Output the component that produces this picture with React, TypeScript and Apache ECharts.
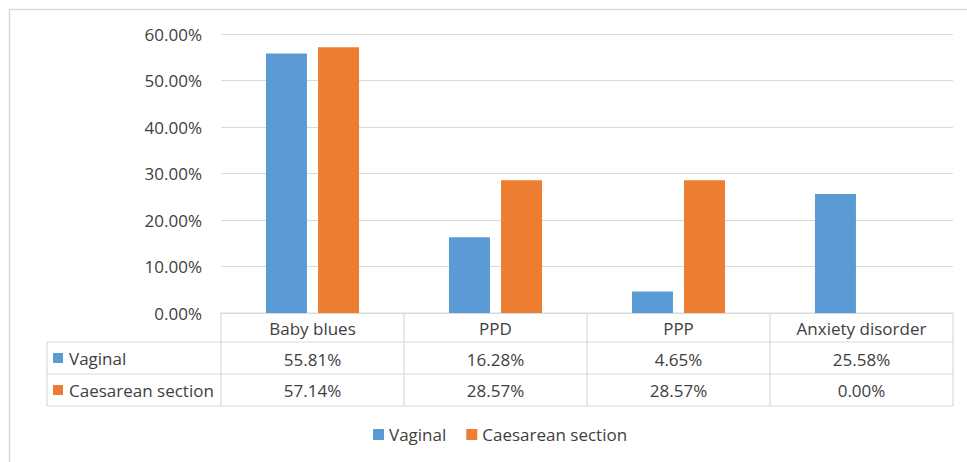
import React, { useEffect, useRef } from "react";
import * as echarts from "echarts";

const categories = ["Baby blues", "PPD", "PPP", "Anxiety disorder"];
const seriesNames = ["Vaginal", "Caesarean section"];
const vaginal = [55.81, 16.28, 4.65, 25.58];
const caesarean = [57.14, 28.57, 28.57, 0.0];
const colors = ["#5B9BD5", "#ED7D31"];

const FONT = "'Open Sans', sans-serif";
const TEXT = "#404040";
const LINE = "#d9d9d9";

const GRID_LEFT = 221;
const GRID_RIGHT_X = 953;
const AXIS_Y = 313;
const ROWS = [313, 342, 374, 406];
const TABLE_LEFT = 47;

const fmt = (v: number) => v.toFixed(2) + "%";

export default function App() {
  const ref = useRef<HTMLDivElement>(null);
  useEffect(() => {
    if (!ref.current) return;
    const chart = echarts.init(ref.current, undefined, { renderer: "svg" });
    const colW = (GRID_RIGHT_X - GRID_LEFT) / categories.length;
    const lines: any[] = [];
    const hl = (x1: number, x2: number, y: number) =>
      lines.push({ type: "line", shape: { x1, y1: y, x2, y2: y }, style: { stroke: LINE, lineWidth: 1.2 }, silent: true });
    const vl = (x: number, y1: number, y2: number) =>
      lines.push({ type: "line", shape: { x1: x, y1, x2: x, y2 }, style: { stroke: LINE, lineWidth: 1.2 }, silent: true });
    hl(GRID_LEFT, GRID_RIGHT_X, ROWS[0]);
    hl(TABLE_LEFT, GRID_RIGHT_X, ROWS[1]);
    hl(TABLE_LEFT, GRID_RIGHT_X, ROWS[2]);
    hl(TABLE_LEFT, GRID_RIGHT_X, ROWS[3]);
    vl(TABLE_LEFT, ROWS[1], ROWS[3]);
    for (let i = 0; i <= categories.length; i++) vl(GRID_LEFT + i * colW, ROWS[0], ROWS[3]);
    // outer frame
    lines.push({ type: "line", shape: { x1: 9, y1: 9.5, x2: 967, y2: 9.5 }, style: { stroke: LINE, lineWidth: 1.5 }, silent: true });
    lines.push({ type: "line", shape: { x1: 9.5, y1: 9, x2: 9.5, y2: 462 }, style: { stroke: LINE, lineWidth: 1.5 }, silent: true });
    // row labels
    seriesNames.forEach((name, i) => {
      const cy = (ROWS[i + 1] + ROWS[i + 2]) / 2;
      lines.push({ type: "rect", shape: { x: 53, y: cy - 5, width: 10, height: 10 }, style: { fill: colors[i] }, silent: true });
      lines.push({
        type: "text",
        x: 69,
        y: cy,
        style: { text: name, fill: TEXT, font: `17px ${FONT}`, verticalAlign: "middle", align: "left" },
        silent: true,
      });
    });

    const rowAxis = (offset: number, values: number[]) => ({
      type: "category",
      data: categories,
      position: "bottom",
      offset,
      axisLine: { show: false },
      axisTick: { show: false },
      axisLabel: {
        interval: 0,
        margin: 5,
        fontSize: 17,
        lineHeight: 20,
        fontFamily: FONT,
        color: TEXT,
        formatter: (_v: string, i: number) => fmt(values[i]),
      },
    });

    chart.setOption({
      animation: false,
      backgroundColor: "#ffffff",
      textStyle: { fontFamily: FONT },
      grid: { left: GRID_LEFT, right: 967 - GRID_RIGHT_X, top: 34, bottom: 462 - AXIS_Y },
      legend: {
        left: 368,
        top: 421,
        itemWidth: 11,
        itemHeight: 11,
        itemGap: 20,
        icon: "rect",
        data: seriesNames,
        textStyle: { fontSize: 17, fontFamily: FONT, color: TEXT },
      },
      xAxis: [
        {
          type: "category",
          data: categories,
          position: "bottom",
          axisLine: { show: false },
          axisTick: { show: false },
          axisLabel: { interval: 0, margin: 5, fontSize: 17, lineHeight: 20, fontFamily: FONT, color: TEXT },
        },
        rowAxis(31, vaginal),
        rowAxis(62, caesarean),
      ],
      yAxis: {
        type: "value",
        min: 0,
        max: 60,
        interval: 10,
        axisLine: { show: false },
        axisTick: { show: false },
        axisLabel: { margin: 19, fontSize: 17, fontFamily: FONT, color: TEXT, formatter: (v: number) => fmt(v) },
        splitLine: { lineStyle: { color: LINE, width: 1.2 } },
      },
      series: [
        { name: seriesNames[0], type: "bar", data: vaginal, itemStyle: { color: colors[0] }, barWidth: "22.4%", barGap: "27%" },
        { name: seriesNames[1], type: "bar", data: caesarean, itemStyle: { color: colors[1] }, barWidth: "22.4%", barGap: "27%" },
      ],
      graphic: lines,
    });
    return () => chart.dispose();
  }, []);
  return <div ref={ref} style={{ position: "fixed", left: 0, top: 0, width: 967, height: 462 }} />;
}
